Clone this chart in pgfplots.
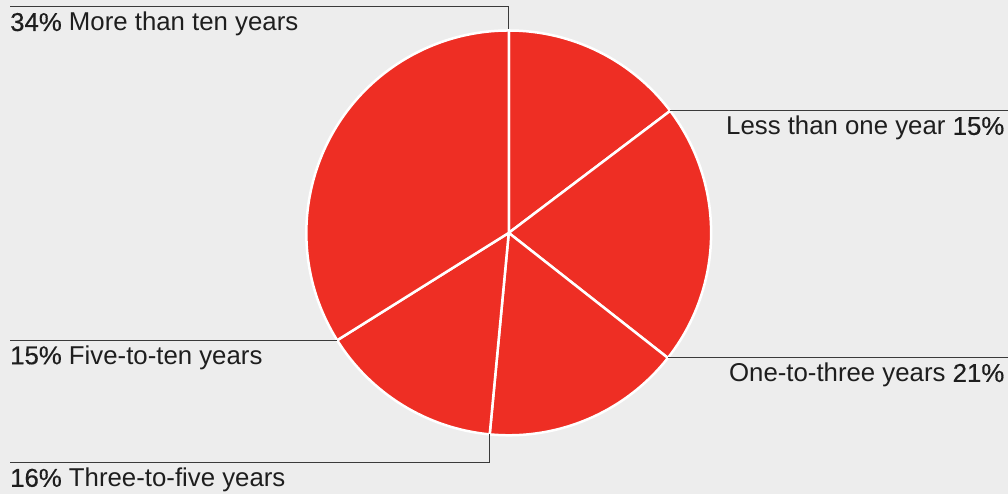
\documentclass[border=0pt]{standalone}
\usepackage{fontspec}
\setmainfont{Liberation Sans}
\newfontfamily\pctfont[FakeBold=0.4]{Liberation Sans}
\usepackage{pgfplots}
\pgfplotsset{compat=1.18}
\usepackage{pgfplotstable}
\definecolor{bg}{HTML}{EDEDED}
\definecolor{piered}{HTML}{EE2E24}
\definecolor{txt}{HTML}{1E1E1E}
\definecolor{leader}{HTML}{3A3A3A}
\tikzset{
  lab/.style={inner sep=0pt, text=txt, font=\fontsize{25.8bp}{30bp}\selectfont},
  ld/.style={draw=leader, line width=1bp},
  sl/.style={fill=piered, draw=white, line width=2.5bp, line join=round},
}
\pgfplotstableread[col sep=comma]{
category,value,shown
Less than one year,14.7,15
One-to-three years,20.9,21
Three-to-five years,15.9,16
Five-to-ten years,14.6,15
More than ten years,33.9,34
}\piedata
\begin{document}
\begin{tikzpicture}
% cumulative boundary angles (clockwise from 12 o'clock)
\pgfmathsetmacro\bA{90}
\pgfplotstablegetelem{0}{value}\of\piedata \pgfmathsetmacro\bB{\bA-3.6*\pgfplotsretval}
\pgfplotstablegetelem{1}{value}\of\piedata \pgfmathsetmacro\bC{\bB-3.6*\pgfplotsretval}
\pgfplotstablegetelem{2}{value}\of\piedata \pgfmathsetmacro\bD{\bC-3.6*\pgfplotsretval}
\pgfplotstablegetelem{3}{value}\of\piedata \pgfmathsetmacro\bE{\bD-3.6*\pgfplotsretval}
\pgfplotstablegetelem{4}{value}\of\piedata \pgfmathsetmacro\bF{\bE-3.6*\pgfplotsretval}
\def\cx{509}\def\cy{261}\def\r{202.5}
\pgfmathsetmacro\xB{\cx+\r*cos(\bB)}\pgfmathsetmacro\yB{\cy+\r*sin(\bB)}
\pgfmathsetmacro\xC{\cx+\r*cos(\bC)}\pgfmathsetmacro\yC{\cy+\r*sin(\bC)}
\pgfmathsetmacro\xD{\cx+\r*cos(\bD)}\pgfmathsetmacro\yD{\cy+\r*sin(\bD)}
\pgfmathsetmacro\xE{\cx+\r*cos(\bE)}\pgfmathsetmacro\yE{\cy+\r*sin(\bE)}
\pgfmathsetmacro\yBl{\yB-24}
\pgfmathsetmacro\yCl{\yC-24}
\pgfmathsetmacro\yEl{\yE-24}
\begin{axis}[
  scale only axis, width=1008bp, height=494bp,
  xmin=0, xmax=1008, ymin=0, ymax=494,
  hide axis, clip=false,
]
\fill[bg] (axis cs:0,0) rectangle (axis cs:1008,494);
\addplot[draw=none] coordinates {(0,0) (1008,494)};
% slices
\filldraw[sl] (axis cs:\cx,\cy) -- +(\bA:\r bp) arc[start angle=\bA, end angle=\bB, radius=\r bp] -- cycle;
\filldraw[sl] (axis cs:\cx,\cy) -- +(\bB:\r bp) arc[start angle=\bB, end angle=\bC, radius=\r bp] -- cycle;
\filldraw[sl] (axis cs:\cx,\cy) -- +(\bC:\r bp) arc[start angle=\bC, end angle=\bD, radius=\r bp] -- cycle;
\filldraw[sl] (axis cs:\cx,\cy) -- +(\bD:\r bp) arc[start angle=\bD, end angle=\bE, radius=\r bp] -- cycle;
\filldraw[sl] (axis cs:\cx,\cy) -- +(\bE:\r bp) arc[start angle=\bE, end angle=\bF, radius=\r bp] -- cycle;
% leader lines
\draw[ld] (axis cs:\xB,\yB) -- (axis cs:1008,\yB);
\draw[ld] (axis cs:\xC,\yC) -- (axis cs:1008,\yC);
\draw[ld] (axis cs:\xD,\yD) -- (axis cs:\xD,31) -- (axis cs:10,31);
\draw[ld] (axis cs:\xE,\yE) -- (axis cs:10,\yE);
\draw[ld] (axis cs:\cx,465) -- (axis cs:\cx,487) -- (axis cs:10,487);
% labels
\node[lab, anchor=base east] at (axis cs:1005,\yBl) {Less than one year {\pctfont 15\%}};
\node[lab, anchor=base east] at (axis cs:1005,\yCl) {One-to-three years {\pctfont 21\%}};
\node[lab, anchor=base west] at (axis cs:10,7) {{\pctfont 16\%} Three-to-five years};
\node[lab, anchor=base west] at (axis cs:10,\yEl) {{\pctfont 15\%} Five-to-ten years};
\node[lab, anchor=base west] at (axis cs:10,463) {{\pctfont 34\%} More than ten years};
\end{axis}
\end{tikzpicture}
\end{document}
